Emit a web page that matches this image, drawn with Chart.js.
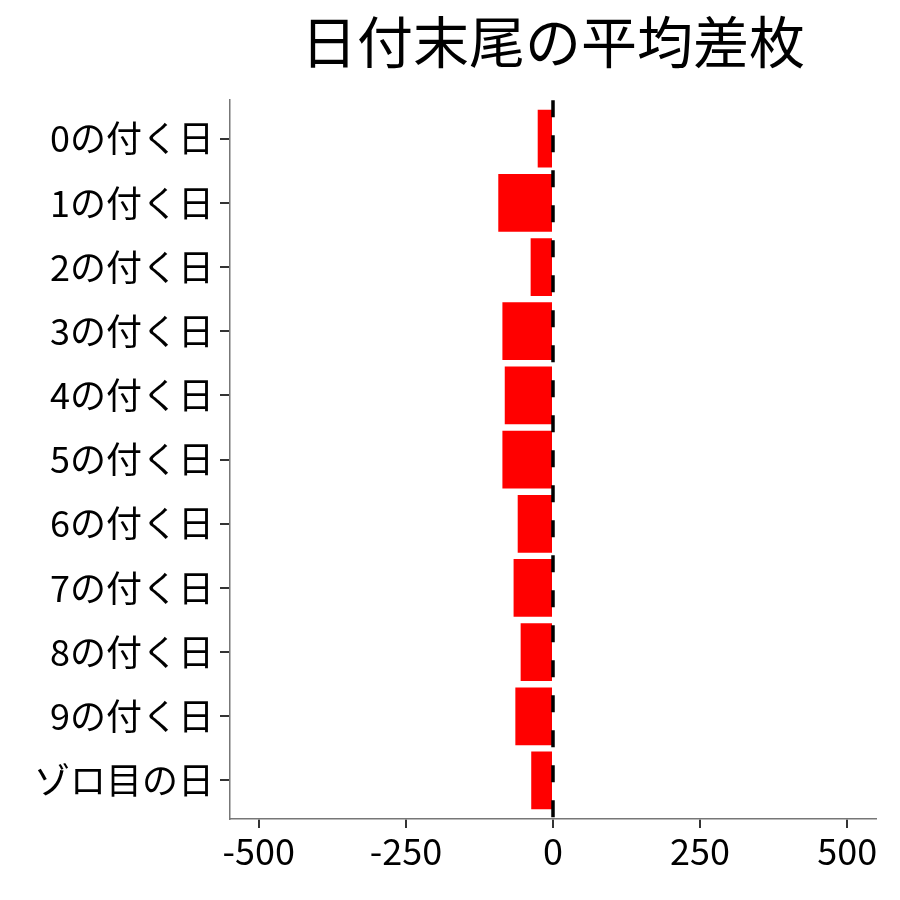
<!DOCTYPE html>
<html>
<head>
<meta charset="utf-8">
<script src="https://cdn.jsdelivr.net/npm/chart.js@4"></script>
<style>
  html, body { margin: 0; padding: 0; background: #fff; }
  #wrap { width: 900px; height: 900px; }
</style>
</head>
<body>
<div id="wrap"><canvas id="chart" width="900" height="900"></canvas></div>
<script>
const title = "日付末尾の平均差枚";
const categories = ["0の付く日", "1の付く日", "2の付く日", "3の付く日", "4の付く日",
  "5の付く日", "6の付く日", "7の付く日", "8の付く日", "9の付く日", "ゾロ目の日"];
const avgDiff = [-26, -93, -38, -86, -82, -86, -60, -67, -55, -64, -37];
const xTicks = [-500, -250, 0, 250, 500];

const font = "'Noto Sans CJK JP', 'Noto Sans', sans-serif";

// vertical dashed reference line at zero
const zeroLine = {
  id: "zeroLine",
  afterDatasetsDraw(chart) {
    const { ctx, chartArea, scales } = chart;
    const x = scales.x.getPixelForValue(0);
    ctx.save();
    ctx.strokeStyle = "#000";
    ctx.lineWidth = 3.5;
    ctx.setLineDash([17, 18]);
    ctx.beginPath();
    ctx.moveTo(x, chartArea.top);
    ctx.lineTo(x, chartArea.bottom);
    ctx.stroke();
    ctx.restore();
  },
};

new Chart(document.getElementById("chart"), {
  type: "bar",
  data: {
    datasets: [{
      data: avgDiff.map((v, i) => ({ x: v, y: i })),
      backgroundColor: "#ff0000",
      borderWidth: 0,
      barPercentage: 0.9,
      categoryPercentage: 1,
    }],
  },
  options: {
    indexAxis: "y",
    responsive: false,
    animation: false,
    layout: { padding: { left: 0, right: 24, top: 0, bottom: 0 } },
    plugins: {
      legend: { display: false },
      tooltip: { enabled: false },
      title: {
        display: true,
        text: title,
        fullSize: false,
        color: "#000",
        font: { family: font, size: 56, weight: "normal" },
        padding: { top: 8, bottom: 25 },
      },
    },
    scales: {
      x: {
        type: "linear",
        min: -549,
        max: 549,
        afterBuildTicks: (s) => { s.ticks = xTicks.map((v) => ({ value: v })); },
        afterFit: (s) => { s.height = 81; },
        grid: { drawOnChartArea: false, drawTicks: true, tickLength: 9, color: "#333", lineWidth: 2 },
        border: { display: true, color: "#777", width: 1.5 },
        ticks: { color: "#000", padding: 2, font: { family: font, size: 36 } },
      },
      y: {
        type: "linear",
        reverse: true,
        offset: false,
        min: -0.6,
        max: 10.6,
        afterBuildTicks: (s) => { s.ticks = categories.map((c, i) => ({ value: i })); },
        afterFit: (s) => { s.width = 230; },
        grid: { offset: false, drawOnChartArea: false, drawTicks: true, tickLength: 10, color: "#333", lineWidth: 2 },
        border: { display: true, color: "#777", width: 1.5 },
        ticks: {
          color: "#000",
          padding: 6,
          font: { family: font, size: 36 },
          callback: (v) => categories[v],
        },
      },
    },
  },
  plugins: [zeroLine],
});
</script>
</body>
</html>
